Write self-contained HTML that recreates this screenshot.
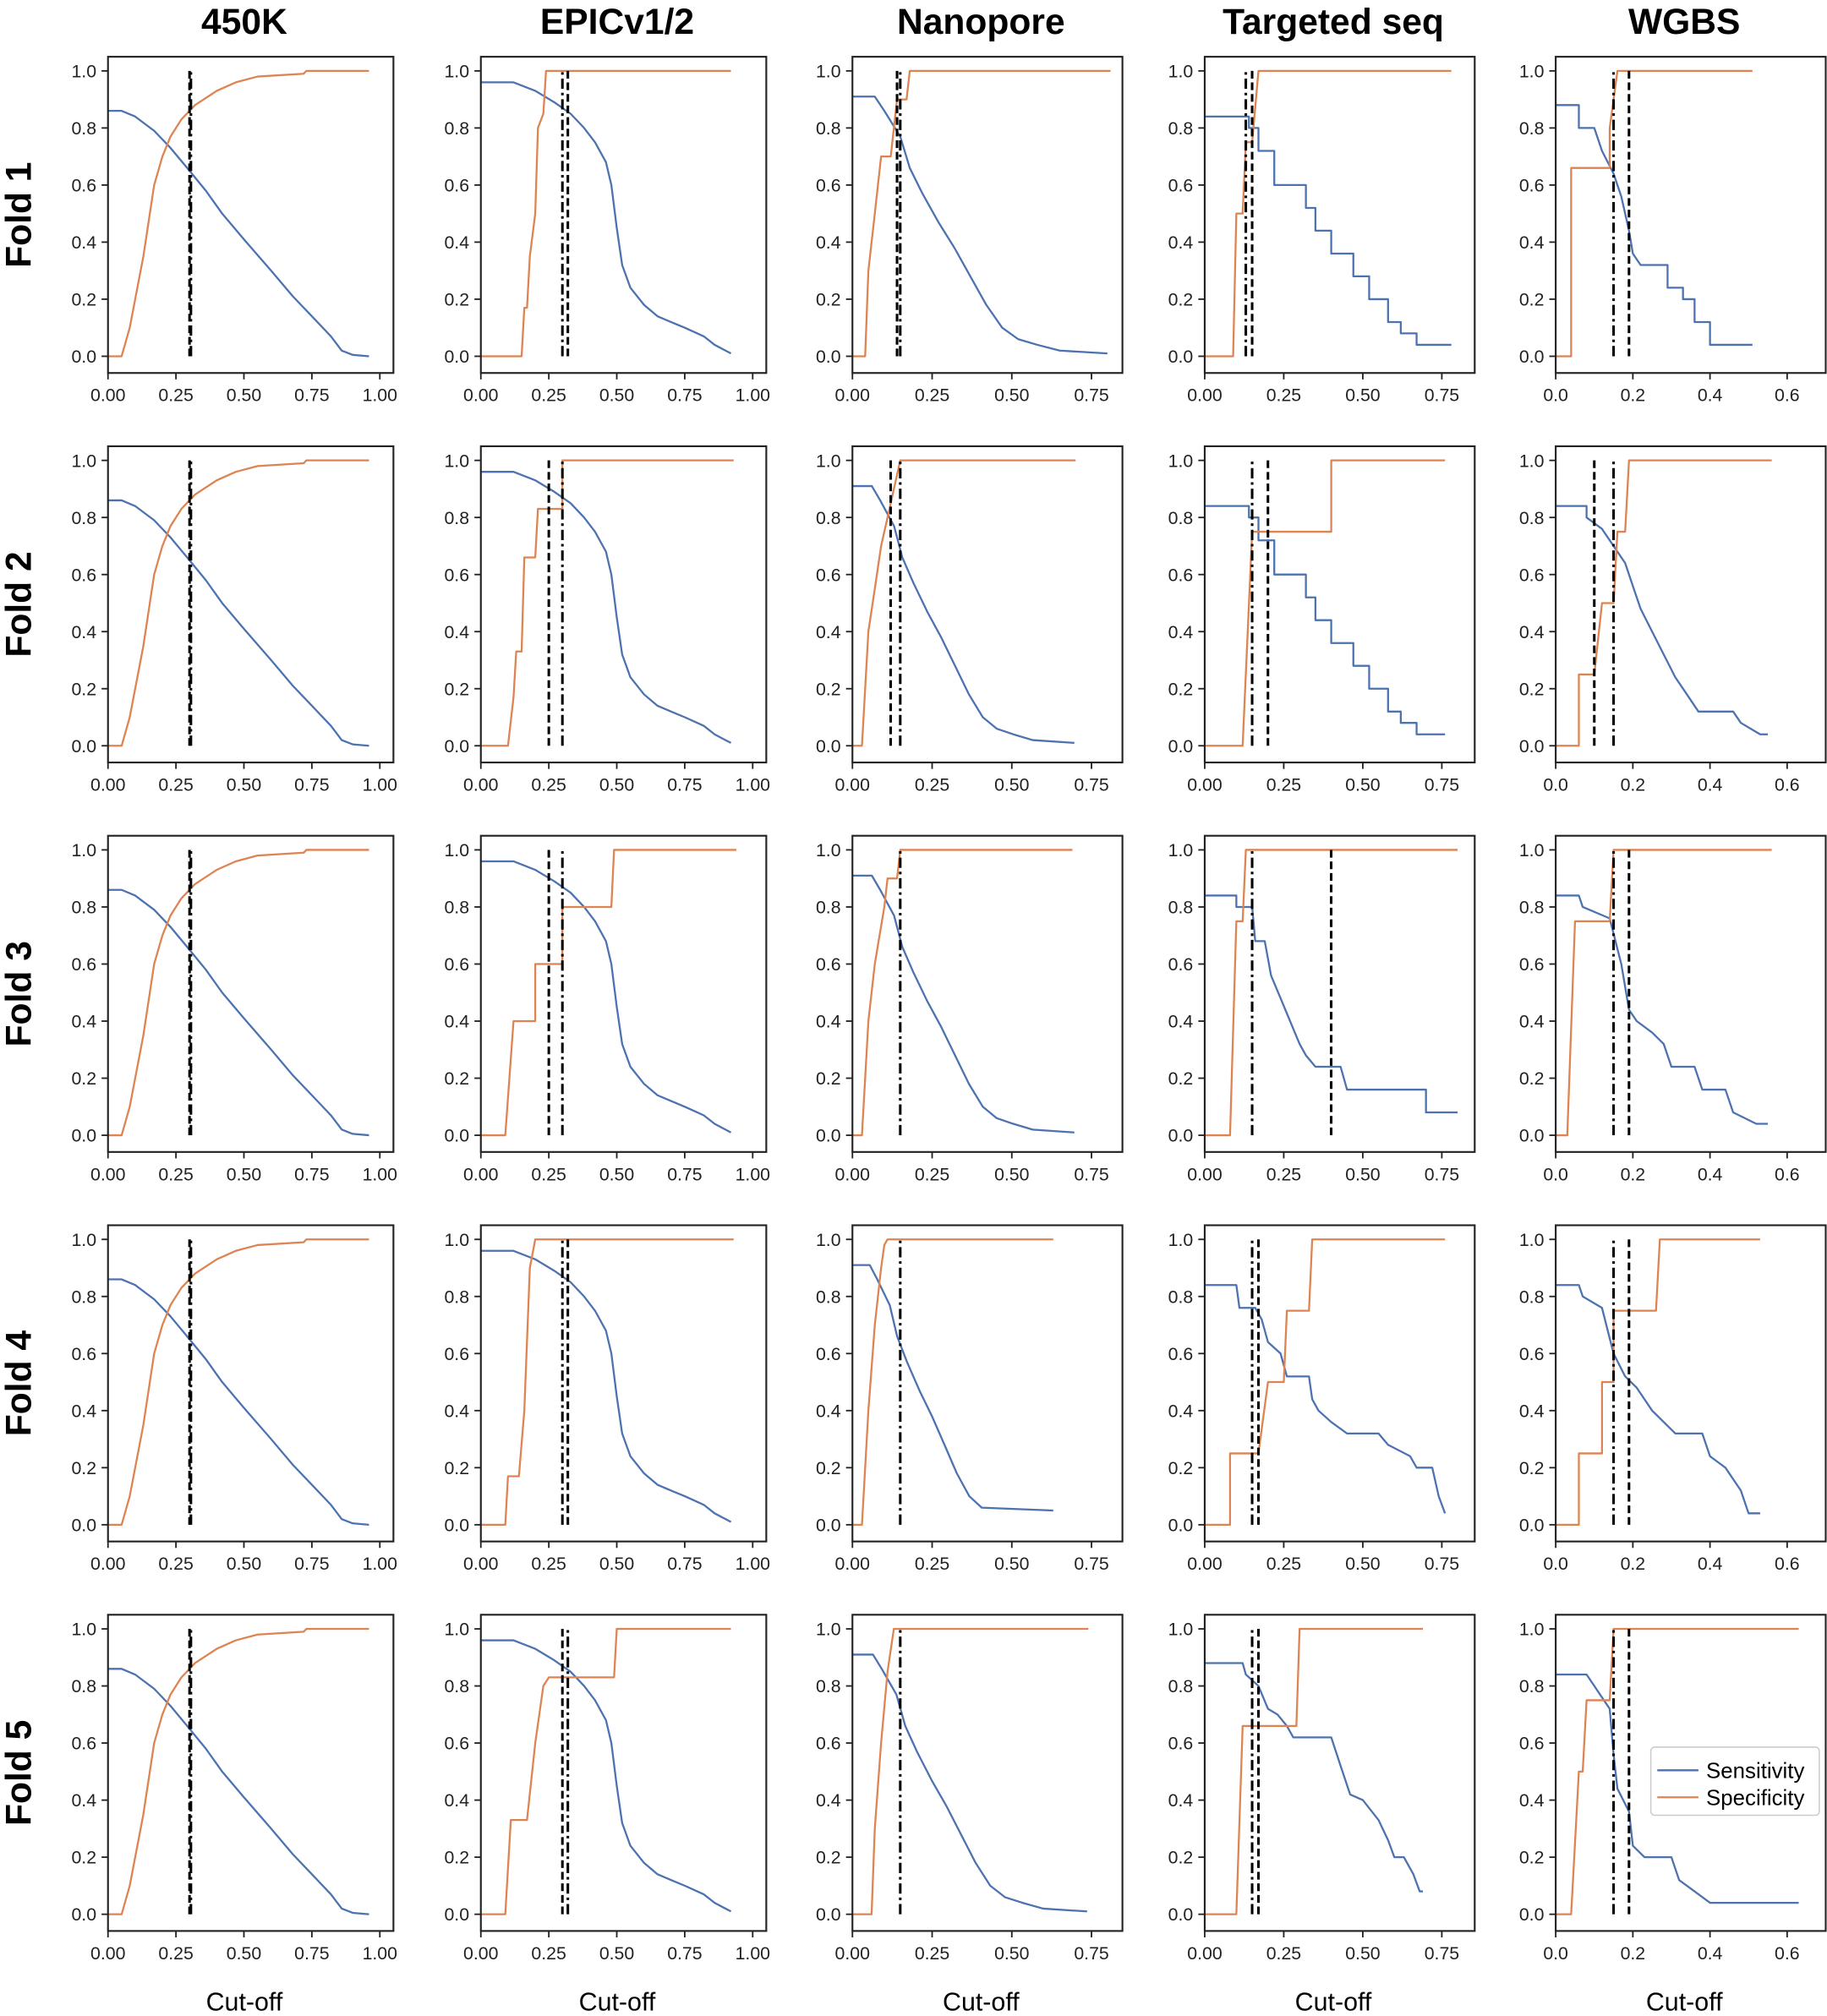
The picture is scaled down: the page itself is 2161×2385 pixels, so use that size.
<!DOCTYPE html>
<html><head><meta charset="utf-8"><style>html,body{margin:0;padding:0;background:#fff}svg{display:block}</style></head>
<body>
<svg id="s" xmlns="http://www.w3.org/2000/svg" width="2161" height="2385" viewBox="0 0 1421 1568" font-family="'Liberation Sans', 'DejaVu Sans', sans-serif">
<rect width="1421" height="1568" fill="#fff"/>
</svg>
<script>
const S=document.getElementById('s');let h='';
const cols=[
 {L:84,W:222,xm:1.05,t:[0,.25,.5,.75,1],f:2,name:'450K'},
 {L:374,W:222,xm:1.05,t:[0,.25,.5,.75,1],f:2,name:'EPICv1/2'},
 {L:663,W:210,xm:0.847,t:[0,.25,.5,.75],f:2,name:'Nanopore'},
 {L:937,W:210,xm:0.854,t:[0,.25,.5,.75],f:2,name:'Targeted seq'},
 {L:1210,W:210,xm:0.7,t:[0,.2,.4,.6],f:1,name:'WGBS'}];
const B='#4c72b0',O='#dd8452';
const sens450=[[0,.86],[.05,.86],[.1,.84],[.17,.79],[.23,.73],[.3,.65],[.36,.58],[.42,.5],[.5,.41],[.6,.3],[.68,.21],[.75,.14],[.82,.07],[.86,.02],[.9,.005],[.96,0]];
const spec450=[[0,0],[.05,0],[.08,.1],[.13,.35],[.17,.6],[.2,.7],[.23,.77],[.27,.83],[.32,.88],[.4,.93],[.47,.96],[.55,.98],[.72,.99],[.73,1],[.96,1]];
const sensEP=[[0,.96],[.12,.96],[.2,.93],[.27,.89],[.33,.85],[.38,.8],[.42,.75],[.46,.68],[.48,.6],[.5,.45],[.52,.32],[.55,.24],[.6,.18],[.65,.14],[.7,.12],[.75,.1],[.82,.07],[.86,.04],[.9,.02],[.92,.01]];
const sensNP=[[0,.91],[.07,.91],[.1,.86],[.15,.77],[.18,.66],[.22,.57],[.27,.47],[.32,.38],[.37,.28],[.42,.18],[.47,.1],[.52,.06],[.58,.04],[.65,.02],[.8,.01]];
const sensTS=[[0,.84],[.14,.84],[.14,.8],[.17,.8],[.17,.72],[.22,.72],[.22,.6],[.32,.6],[.32,.52],[.35,.52],[.35,.44],[.4,.44],[.4,.36],[.47,.36],[.47,.28],[.52,.28],[.52,.2],[.58,.2],[.58,.12],[.62,.12],[.62,.08],[.67,.08],[.67,.04],[.75,.04]];
const sensWG=[[0,.88],[.06,.88],[.06,.8],[.1,.8],[.12,.72],[.15,.64],[.17,.56],[.19,.44],[.2,.36],[.22,.32],[.29,.32],[.29,.24],[.33,.24],[.33,.2],[.36,.2],[.36,.12],[.4,.12],[.4,.04],[.44,.04]];
function sc(a,k,e){return a.filter(p=>p[0]<=e||e==null).map(p=>[p[0]*k,p[1]]);}
// panels [col][row] = {s, p, v:[[x,style]]}
const P=[
 [0,1,2,3,4].map(r=>({s:sens450,p:spec450,v:[[0.3,'d'],[0.305,'dd']]})),
 [
  {s:sensEP,p:[[0,0],[.15,0],[.16,.17],[.17,.17],[.18,.35],[.2,.5],[.21,.8],[.23,.85],[.24,1],[.92,1]],v:[[.3,'dd'],[.32,'d']]},
  {s:sensEP,p:[[0,0],[.1,0],[.12,.17],[.13,.33],[.15,.33],[.16,.66],[.2,.66],[.21,.83],[.3,.83],[.3,1],[.93,1]],v:[[.25,'d'],[.3,'dd']]},
  {s:sensEP,p:[[0,0],[.09,0],[.12,.4],[.2,.4],[.2,.6],[.3,.6],[.3,.8],[.48,.8],[.49,1],[.94,1]],v:[[.25,'d'],[.3,'dd']]},
  {s:sensEP,p:[[0,0],[.09,0],[.1,.17],[.14,.17],[.16,.4],[.18,.9],[.2,1],[.93,1]],v:[[.3,'dd'],[.32,'d']]},
  {s:sensEP,p:[[0,0],[.09,0],[.11,.33],[.17,.33],[.2,.6],[.23,.8],[.25,.83],[.49,.83],[.5,1],[.92,1]],v:[[.3,'d'],[.32,'dd']]}],
 [
  {s:sensNP,p:[[0,0],[.04,0],[.05,.3],[.07,.5],[.09,.7],[.12,.7],[.14,.9],[.17,.9],[.18,1],[.81,1]],v:[[.14,'d'],[.15,'dd']]},
  {s:sc(sensNP,.87),p:[[0,0],[.03,0],[.05,.4],[.07,.55],[.09,.7],[.12,.85],[.15,1],[.7,1]],v:[[.12,'d'],[.15,'dd']]},
  {s:sc(sensNP,.87),p:[[0,0],[.03,0],[.05,.4],[.07,.6],[.1,.8],[.11,.9],[.14,.9],[.15,1],[.69,1]],v:[[.15,'dd']]},
  {s:sc(sensNP,.78).filter(p=>p[1]>=.05).concat([[.63,.05]]),p:[[0,0],[.03,0],[.05,.4],[.07,.7],[.09,.9],[.1,.98],[.11,1],[.63,1]],v:[[.15,'dd']]},
  {s:sc(sensNP,.92),p:[[0,0],[.06,0],[.07,.3],[.09,.6],[.11,.85],[.13,1],[.74,1]],v:[[.15,'dd']]}],
 [
  {s:sensTS.concat([[.78,.04]]),p:[[0,0],[.09,0],[.1,.5],[.12,.5],[.13,.75],[.15,.75],[.17,1],[.78,1]],v:[[.13,'dd'],[.15,'d']]},
  {s:sensTS.map(p=>[p[0],p[1]*1]).concat([[.76,.04]]),p:[[0,0],[.12,0],[.15,.75],[.4,.75],[.4,1],[.76,1]],v:[[.15,'dd'],[.2,'d']]},
  {s:[[0,.84],[.1,.84],[.1,.8],[.15,.8],[.16,.68],[.19,.68],[.21,.56],[.24,.48],[.27,.4],[.3,.32],[.32,.28],[.35,.24],[.43,.24],[.45,.16],[.7,.16],[.7,.08],[.8,.08]],p:[[0,0],[.08,0],[.1,.75],[.12,.75],[.13,1],[.8,1]],v:[[.15,'dd'],[.4,'d']]},
  {s:[[0,.84],[.1,.84],[.11,.76],[.16,.76],[.18,.72],[.2,.64],[.24,.6],[.26,.52],[.33,.52],[.34,.44],[.36,.4],[.4,.36],[.45,.32],[.55,.32],[.58,.28],[.65,.24],[.67,.2],[.72,.2],[.74,.1],[.76,.04]],p:[[0,0],[.08,0],[.08,.25],[.17,.25],[.2,.5],[.25,.5],[.26,.75],[.33,.75],[.34,1],[.76,1]],v:[[.15,'dd'],[.17,'d']]},
  {s:[[0,.88],[.12,.88],[.13,.84],[.17,.8],[.2,.72],[.23,.7],[.26,.66],[.28,.62],[.4,.62],[.43,.52],[.46,.42],[.5,.4],[.55,.33],[.58,.26],[.6,.2],[.63,.2],[.66,.14],[.68,.08],[.69,.08]],p:[[0,0],[.1,0],[.12,.66],[.29,.66],[.3,1],[.69,1]],v:[[.15,'dd'],[.17,'d']]}],
 [
  {s:sensWG.concat([[.51,.04]]),p:[[0,0],[.04,0],[.04,.66],[.14,.66],[.14,.8],[.16,1],[.51,1]],v:[[.15,'dd'],[.19,'d']]},
  {s:[[0,.84],[.08,.84],[.08,.8],[.12,.76],[.15,.7],[.18,.64],[.2,.56],[.22,.48],[.25,.4],[.28,.32],[.31,.24],[.34,.18],[.37,.12],[.46,.12],[.48,.08],[.53,.04],[.55,.04]],p:[[0,0],[.06,0],[.06,.25],[.1,.25],[.12,.5],[.15,.5],[.16,.75],[.18,.75],[.19,1],[.56,1]],v:[[.1,'d'],[.15,'dd']]},
  {s:[[0,.84],[.06,.84],[.07,.8],[.14,.76],[.17,.6],[.19,.44],[.21,.4],[.25,.36],[.28,.32],[.3,.24],[.36,.24],[.38,.16],[.44,.16],[.46,.08],[.52,.04],[.55,.04]],p:[[0,0],[.03,0],[.05,.75],[.14,.75],[.15,1],[.56,1]],v:[[.15,'dd'],[.19,'d']]},
  {s:[[0,.84],[.06,.84],[.07,.8],[.12,.76],[.15,.6],[.18,.52],[.21,.48],[.25,.4],[.28,.36],[.31,.32],[.38,.32],[.4,.24],[.44,.2],[.48,.12],[.5,.04],[.53,.04]],p:[[0,0],[.06,0],[.06,.25],[.12,.25],[.12,.5],[.15,.5],[.15,.75],[.26,.75],[.27,1],[.53,1]],v:[[.15,'dd'],[.19,'d']]},
  {s:[[0,.84],[.08,.84],[.1,.8],[.12,.76],[.14,.72],[.15,.56],[.16,.44],[.19,.36],[.2,.24],[.23,.2],[.3,.2],[.32,.12],[.36,.08],[.4,.04],[.63,.04]],p:[[0,0],[.04,0],[.06,.5],[.07,.5],[.08,.75],[.14,.75],[.15,1],[.63,1]],v:[[.15,'dd'],[.19,'d']]}]
];
const rowsN=['Fold 1','Fold 2','Fold 3','Fold 4','Fold 5'];
cols.forEach((c,ci)=>{
 const cx=c.L+c.W/2;
 h+=`<text x="${cx-5}" y="26" font-size="28" font-weight="bold" text-anchor="middle">${c.name}</text>`;
 h+=`<text x="${cx-5}" y="1564" font-size="20" text-anchor="middle">Cut-off</text>`;
 for(let r=0;r<5;r++){
  const T=44+303*r,L=c.L,W=c.W,H=246;
  const X=x=>L+x/c.xm*W, Y=y=>T+233-y*222;
  // ticks
  [0,.2,.4,.6,.8,1].forEach(v=>{h+=`<line x1="${L-5}" x2="${L}" y1="${Y(v)}" y2="${Y(v)}" stroke="#222" stroke-width="1.2"/><text x="${L-9}" y="${Y(v)+5}" font-size="14" fill="#222" text-anchor="end">${v.toFixed(1)}</text>`;});
  c.t.forEach(v=>{h+=`<line x1="${X(v)}" x2="${X(v)}" y1="${T+H}" y2="${T+H+5}" stroke="#222" stroke-width="1.2"/><text x="${X(v)}" y="${T+H+22}" font-size="14" fill="#222" text-anchor="middle">${v.toFixed(c.f)}</text>`;});
  const d=P[ci][r];
  const pl=(a,col)=>`<polyline fill="none" stroke="${col}" stroke-width="1.5" stroke-linejoin="round" points="${a.map(p=>X(p[0]).toFixed(1)+','+Y(p[1]).toFixed(1)).join(' ')}"/>`;
  h+=pl(d.s,B)+pl(d.p,O);
  d.v.forEach(v=>{const da=v[1]=='d'?'6,3':'8,3,2,3';h+=`<line x1="${X(v[0])}" x2="${X(v[0])}" y1="${Y(0)}" y2="${Y(1)}" stroke="#000" stroke-width="2" stroke-dasharray="${da}"/>`;});
  h+=`<rect x="${L}" y="${T}" width="${W}" height="${H}" fill="none" stroke="#222" stroke-width="1.4"/>`;
  if(ci==0){h+=`<text transform="translate(24,${T+123}) rotate(-90)" font-size="28" font-weight="bold" text-anchor="middle">${rowsN[r]}</text>`;}
 }
});
// legend
h+=`<rect x="1284" y="1359" width="131" height="53" rx="3" fill="#fff" stroke="#ccc" stroke-width="1"/>
<line x1="1289" x2="1321" y1="1377" y2="1377" stroke="${B}" stroke-width="1.5"/><text x="1327" y="1383" font-size="17">Sensitivity</text>
<line x1="1289" x2="1321" y1="1398" y2="1398" stroke="${O}" stroke-width="1.5"/><text x="1327" y="1404" font-size="17">Specificity</text>`;
S.insertAdjacentHTML('beforeend',h);
</script>
</body></html>
